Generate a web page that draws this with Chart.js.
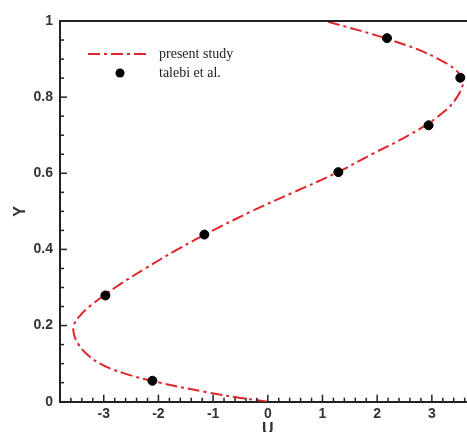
<!DOCTYPE html>
<html>
<head>
<meta charset="utf-8">
<script src="https://cdn.jsdelivr.net/npm/chart.js@4/dist/chart.umd.min.js"></script>
<style>
    html, body { margin: 0; padding: 0; background: #fff; overflow: hidden; }
    #caixa { width: 490px; height: 445px; }
</style>
</head>
<body>
<div id="caixa"><canvas id="graficoPerfil" width="490" height="445"></canvas></div>
<script>
// present study: U lido em cada Y
var curvaY = [0, 0.01, 0.025, 0.05, 0.075, 0.1, 0.125, 0.15, 0.175, 0.2, 0.225, 0.25, 0.3, 0.35, 0.4, 0.45, 0.5, 0.55, 0.6, 0.65, 0.7, 0.75, 0.8, 0.85, 0.9, 0.95, 1];
var curvaU = [0, -0.5, -1.12, -1.97, -2.64, -3.07, -3.31, -3.46, -3.54, -3.55, -3.44, -3.26, -2.79, -2.24, -1.65, -1.0, -0.3, 0.47, 1.24, 1.9, 2.58, 3.12, 3.46, 3.55, 3.12, 2.25, 1.05];

// talebi et al.
var pontosY = [0.055, 0.279, 0.439, 0.603, 0.726, 0.851, 0.955];
var pontosU = [-2.11, -2.97, -1.16, 1.29, 2.94, 3.52, 2.18];

var limitesU = [-3.8, 3.8];
var limitesY = [0, 1];

var curva = [];
for (var i = 0; i < curvaY.length; i++) {
    curva.push({ x: curvaU[i], y: curvaY[i] });
}
var pontos = [];
for (var j = 0; j < pontosY.length; j++) {
    pontos.push({ x: pontosU[j], y: pontosY[j] });
}

var corTexto = "#333";
var fonteEixo = { family: "Liberation Sans", size: 14, weight: "bold" };
var fonteTitulo = { family: "Liberation Sans", size: 16, weight: "bold" };

// moldura de cima, ticks para dentro e legenda dentro do grafico
var molduraPlugin = {
    id: "moldura",
    afterDraw: function (chart) {
        var ctx = chart.ctx;
        var area = chart.chartArea;
        var sx = chart.scales.x;
        var sy = chart.scales.y;

        ctx.save();
        ctx.strokeStyle = "#222";
        ctx.lineWidth = 2;
        ctx.beginPath();
        ctx.moveTo(area.left, area.top);
        ctx.lineTo(area.right, area.top);
        ctx.stroke();

        ctx.lineWidth = 1.5;
        // eixo U: maior a cada 1, menor a cada 0.2
        for (var k = -19; k <= 19; k++) {
            var px = sx.getPixelForValue(k / 5);
            var tam = (k % 5 === 0) ? 7 : 4;
            ctx.beginPath();
            ctx.moveTo(px, area.bottom);
            ctx.lineTo(px, area.bottom - tam);
            ctx.stroke();
        }
        // eixo Y: maior a cada 0.2, menor a cada 0.05
        for (var m = 0; m <= 20; m++) {
            var py = sy.getPixelForValue(m / 20);
            var tamY = (m % 4 === 0) ? 7 : 4;
            ctx.beginPath();
            ctx.moveTo(area.left, py);
            ctx.lineTo(area.left + tamY, py);
            ctx.stroke();
        }

        // legenda
        var ds = chart.data.datasets;
        var lx = area.left + 28;
        var ly = area.top + 33;
        ctx.strokeStyle = ds[0].borderColor;
        ctx.lineWidth = ds[0].borderWidth;
        ctx.setLineDash(ds[0].borderDash);
        ctx.beginPath();
        ctx.moveTo(lx, ly);
        ctx.lineTo(lx + 62, ly);
        ctx.stroke();
        ctx.setLineDash([]);

        ctx.fillStyle = ds[1].backgroundColor;
        ctx.beginPath();
        ctx.arc(lx + 32, ly + 19, ds[1].pointRadius, 0, Math.PI * 2);
        ctx.fill();

        ctx.fillStyle = "#222";
        ctx.font = "14px 'Liberation Serif'";
        ctx.textBaseline = "middle";
        ctx.textAlign = "left";
        ctx.fillText(ds[0].label, lx + 71, ly);
        ctx.fillText(ds[1].label, lx + 71, ly + 19);
        ctx.restore();
    }
};

const ctx1 = document.getElementById("graficoPerfil");

new Chart(ctx1, {
    type: "scatter",
    data: {
        datasets: [{
            label: "present study",
            data: curva,
            showLine: true,
            borderColor: "#e0252b",
            borderWidth: 2,
            borderDash: [12, 4, 3, 4],
            pointRadius: 0,
            tension: 0.4,
            fill: false,
            order: 2
        }, {
            label: "talebi et al.",
            data: pontos,
            showLine: false,
            pointRadius: 4.5,
            backgroundColor: "#000",
            borderColor: "#000",
            order: 1
        }]
    },
    plugins: [molduraPlugin],
    options: {
        responsive: false,
        animation: false,
        layout: { padding: { top: 21, right: 14.4, left: 0, bottom: 0 } },
        plugins: {
            legend: { display: false },
            tooltip: { enabled: false }
        },
        scales: {
            x: {
                type: "linear",
                min: limitesU[0],
                max: limitesU[1],
                afterFit: function (escala) { escala.height = 43.3; },
                grid: { display: false, drawTicks: false },
                border: { display: true, color: "#222", width: 2 },
                ticks: {
                    stepSize: 1,
                    includeBounds: false,
                    padding: 4,
                    color: corTexto,
                    font: fonteEixo
                },
                title: {
                    display: true,
                    text: "U",
                    color: corTexto,
                    font: fonteTitulo,
                    padding: { top: 0, bottom: 6 }
                }
            },
            y: {
                min: limitesY[0],
                max: limitesY[1],
                afterFit: function (escala) { escala.width = 60; },
                grid: { display: false, drawTicks: false },
                border: { display: true, color: "#222", width: 2 },
                ticks: {
                    stepSize: 0.2,
                    padding: 7,
                    color: corTexto,
                    font: fonteEixo,
                    callback: function (valor) {
                        return String(Number(valor.toFixed(1)));
                    }
                },
                title: {
                    display: true,
                    text: "Y",
                    color: corTexto,
                    font: fonteTitulo,
                    padding: { top: 11, bottom: 0 }
                }
            }
        }
    }
});
</script>
</body>
</html>
